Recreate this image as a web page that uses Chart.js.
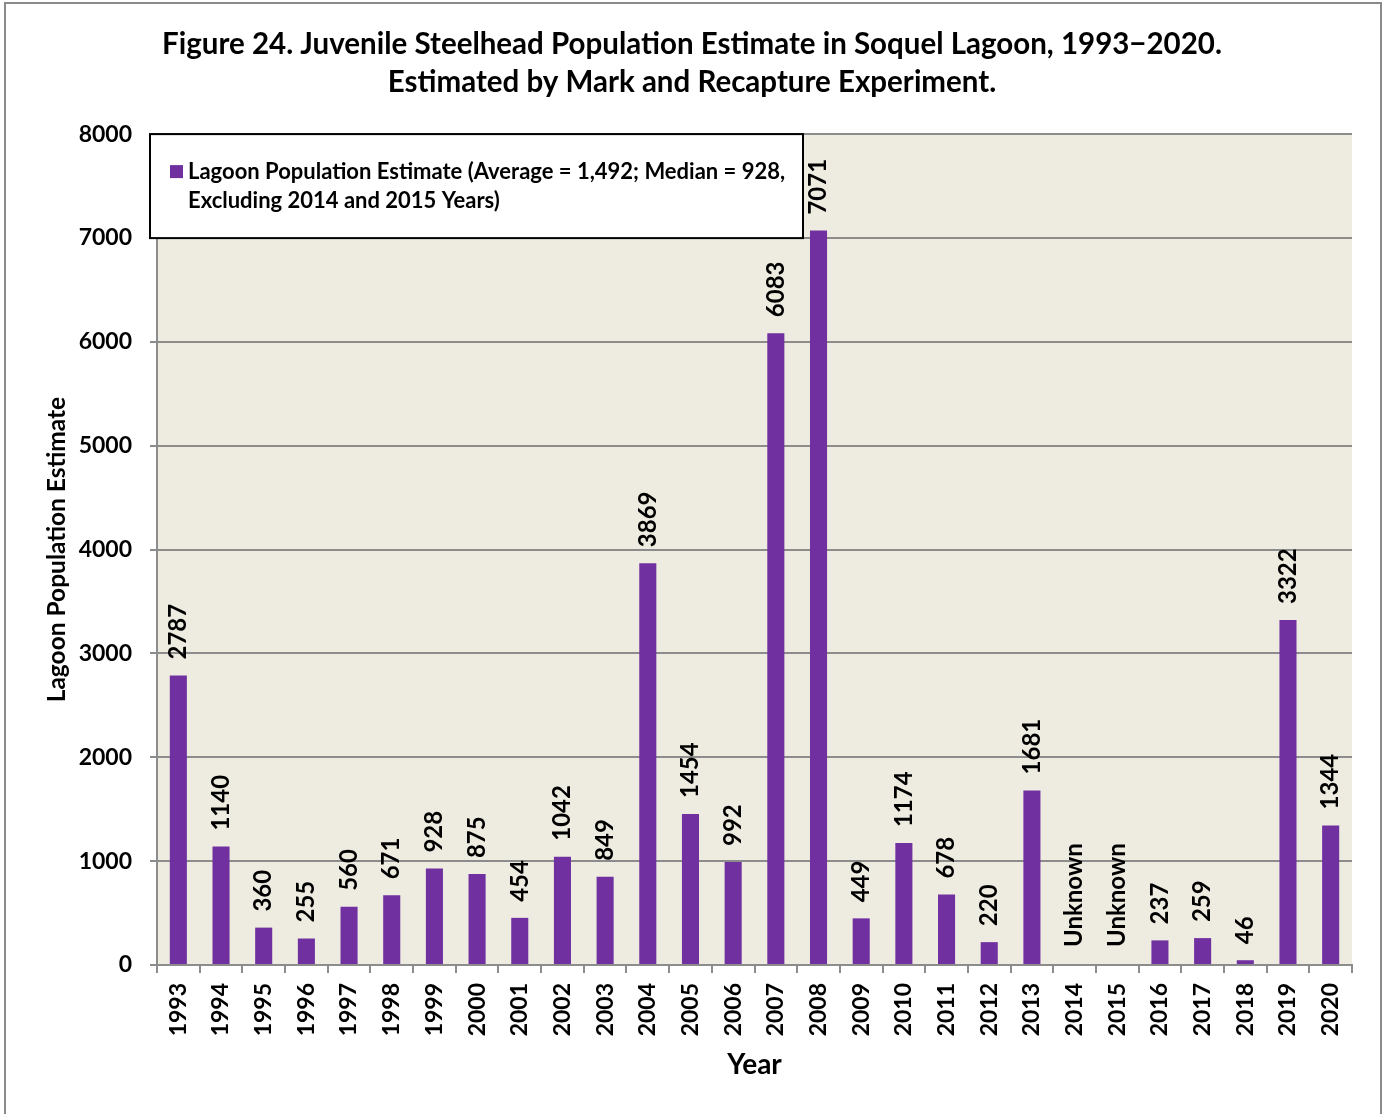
<!DOCTYPE html>
<html>
<head>
<meta charset="utf-8">
<script src="https://cdn.jsdelivr.net/npm/chart.js@4.4.1/dist/chart.umd.min.js"></script>
<style>
  html, body { margin: 0; padding: 0; background: #fff; overflow: hidden; }
  #frame { position: absolute; left: 4px; top: 2px; width: 1374px; height: 1200px; border: 2px solid #8a8a8a; }
  #chart { position: absolute; left: 0; top: 0; }
</style>
</head>
<body>
<div id="frame"></div>
<canvas id="chart" width="1384" height="1114"></canvas>
<script>
const years = ["1993", "1994", "1995", "1996", "1997", "1998", "1999", "2000", "2001", "2002",
  "2003", "2004", "2005", "2006", "2007", "2008", "2009", "2010", "2011", "2012",
  "2013", "2014", "2015", "2016", "2017", "2018", "2019", "2020"]

// null = no estimate for that year
const estimates = [2787, 1140, 360, 255, 560, 671, 928, 875, 454, 1042,
  849, 3869, 1454, 992, 6083, 7071, 449, 1174, 678, 220,
  1681, null, null, 237, 259, 46, 3322, 1344]

const titleLines = [
  "Figure 24. Juvenile Steelhead Population Estimate in Soquel Lagoon, 1993\u22122020.",
  "Estimated by Mark and Recapture Experiment."
]
const legendLines = [
  "Lagoon Population Estimate (Average = 1,492; Median = 928,",
  "Excluding 2014 and 2015 Years)"
]

const FONT = "Lato, 'DejaVu Sans', sans-serif"
const BAR_COLOR = "#7030A0"
const GRID_COLOR = "#8c8c8c"

// plot area fill
const plotBackground = {
  id: "plotBackground",
  beforeDraw(chart) {
    const { ctx, chartArea: a } = chart
    ctx.save()
    ctx.fillStyle = "#EEECE1"
    ctx.fillRect(a.left, a.top, a.right - a.left, a.bottom - a.top)
    ctx.restore()
  }
}

// vertical value labels above each bar, "Unknown" where there is no value
const barLabels = {
  id: "barLabels",
  afterDatasetsDraw(chart) {
    const { ctx } = chart
    const yScale = chart.scales.y
    const meta = chart.getDatasetMeta(0)
    ctx.save()
    ctx.font = "bold 24px " + FONT
    ctx.fillStyle = "#000"
    ctx.textAlign = "left"
    ctx.textBaseline = "middle"
    meta.data.forEach((bar, i) => {
      const v = estimates[i]
      const text = v === null ? "Unknown" : String(v)
      const top = v === null ? yScale.getPixelForValue(0) - 18 : bar.y - 16
      ctx.save()
      ctx.translate(bar.x, top)
      ctx.rotate(-Math.PI / 2)
      ctx.fillText(text, 0, 0)
      ctx.restore()
    })
    ctx.restore()
  }
}

// boxed legend in the upper left of the plot
const boxLegend = {
  id: "boxLegend",
  afterDraw(chart) {
    const { ctx, chartArea: a } = chart
    const x = a.left - 7, y = a.top, w = 653, h = 104
    ctx.save()
    ctx.fillStyle = "#fff"
    ctx.fillRect(x, y, w, h)
    ctx.strokeStyle = "#000"
    ctx.lineWidth = 2
    ctx.strokeRect(x, y, w, h)
    ctx.fillStyle = BAR_COLOR
    ctx.fillRect(x + 20, y + 31, 13, 13)
    ctx.fillStyle = "#000"
    ctx.font = "bold 22px " + FONT
    ctx.textBaseline = "middle"
    ctx.fillText(legendLines[0], x + 38, y + 38)
    ctx.fillText(legendLines[1], x + 38, y + 67)
    ctx.restore()
  }
}

new Chart(document.getElementById("chart"), {
  type: "bar",
  data: {
    labels: years,
    datasets: [{
      label: legendLines.join(" "),
      data: estimates,
      backgroundColor: BAR_COLOR,
      barPercentage: 0.4,
      categoryPercentage: 1.0
    }]
  },
  options: {
    responsive: false,
    animation: false,
    devicePixelRatio: 1,
    layout: { padding: { left: 32, right: 32, top: 0, bottom: 0 } },
    plugins: {
      legend: { display: false },
      tooltip: { enabled: false },
      title: {
        display: true,
        text: titleLines,
        color: "#000",
        font: { family: FONT, size: 29.5, weight: "bold", lineHeight: 1.29 },
        padding: { top: 25, bottom: 33 }
      }
    },
    scales: {
      x: {
        offset: true,
        grid: { offset: true, drawOnChartArea: false, color: GRID_COLOR, lineWidth: 2, tickLength: 8 },
        border: { color: GRID_COLOR, width: 2 },
        ticks: {
          color: "#000",
          font: { family: FONT, size: 23, weight: "bold" },
          minRotation: 90,
          maxRotation: 90,
          padding: 10
        },
        title: {
          display: true,
          text: "Year",
          color: "#000",
          font: { family: FONT, size: 28, weight: "bold" },
          padding: { top: 0, bottom: 32 }
        },
        afterFit(scale) { scale.height = 149 }
      },
      y: {
        min: 0,
        max: 8000,
        ticks: {
          stepSize: 1000,
          color: "#000",
          font: { family: FONT, size: 23, weight: "bold" },
          padding: 18,
          callback: (value) => String(value)
        },
        grid: { color: GRID_COLOR, lineWidth: 2, tickLength: 7 },
        border: { color: GRID_COLOR, width: 2 },
        title: {
          display: true,
          text: "Lagoon Population Estimate",
          color: "#000",
          font: { family: FONT, size: 24.5, weight: "bold" },
          padding: { top: 10, bottom: 0 }
        },
        afterFit(scale) { scale.width = 125 }
      }
    }
  },
  plugins: [plotBackground, barLabels, boxLegend]
})
</script>
</body>
</html>
